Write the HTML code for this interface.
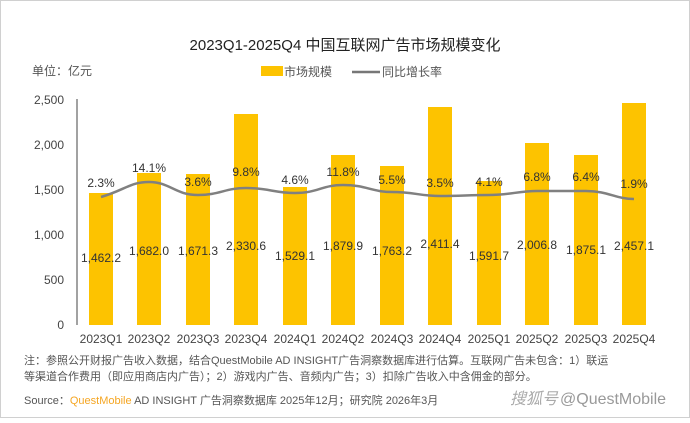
<!DOCTYPE html>
<html><head><meta charset="utf-8"><style>
body{margin:0;width:690px;height:418px;background:#fff;overflow:hidden;font-family:"Liberation Sans","Noto Sans CJK SC",sans-serif}
</style></head><body>
<svg width="690" height="418" xmlns="http://www.w3.org/2000/svg" font-family="Liberation Sans, Noto Sans CJK SC, sans-serif">
<rect x="0.5" y="0.5" width="689" height="417" fill="#fff" stroke="#d0d0d0"/>
<text x="345" y="50" font-size="15" text-anchor="middle" fill="#222">2023Q1-2025Q4 中国互联网广告市场规模变化</text>
<text x="32" y="75" font-size="12" fill="#555">单位：亿元</text>
<rect x="261" y="66" width="22" height="10" fill="#fdc300"/>
<text x="284" y="76" font-size="12" fill="#555">市场规模</text>
<line x1="352" y1="72" x2="380" y2="72" stroke="#777" stroke-width="2.5"/>
<text x="382" y="76" font-size="12" fill="#555">同比增长率</text>
<g font-size="12" fill="#444" text-anchor="end">
<text x="64" y="104">2,500</text><text x="64" y="149">2,000</text><text x="64" y="194">1,500</text>
<text x="64" y="239">1,000</text><text x="64" y="284">500</text><text x="64" y="329">0</text>
</g>
<line x1="77" y1="99" x2="77" y2="325" stroke="#444"/>
<g fill="#fdc300">
<rect x="89" y="193" width="24" height="132"/>
<rect x="137" y="173" width="24" height="152"/>
<rect x="186" y="174" width="24" height="151"/>
<rect x="234" y="114" width="24" height="211"/>
<rect x="283" y="187" width="24" height="138"/>
<rect x="331" y="155" width="24" height="170"/>
<rect x="380" y="166" width="24" height="159"/>
<rect x="428" y="107" width="24" height="218"/>
<rect x="477" y="181" width="24" height="144"/>
<rect x="525" y="143" width="24" height="182"/>
<rect x="574" y="155" width="24" height="170"/>
<rect x="622" y="103" width="24" height="222"/>
</g>
<path d="M101,197 C125,190 130,182 149,182 C170,182 175,195 198,195 C220,195 225,188 246,188 C268,188 275,193 295,193 C318,193 322,185 343,185 C366,185 372,192 392,192 C414,192 420,196 440,196 C462,196 468,195 489,195 C510,195 518,191 537,191 C560,191 566,191 586,191 C608,191 616,199 634,199" fill="none" stroke="#808080" stroke-width="2.5"/>
<g font-size="12" fill="#333" text-anchor="middle">
<text x="101" y="187">2.3%</text><text x="149" y="172">14.1%</text><text x="198" y="186">3.6%</text>
<text x="246" y="176">9.8%</text><text x="295" y="184">4.6%</text><text x="343" y="176">11.8%</text>
<text x="392" y="184">5.5%</text><text x="440" y="187">3.5%</text><text x="489" y="186">4.1%</text>
<text x="537" y="181">6.8%</text><text x="586" y="181">6.4%</text><text x="634" y="188">1.9%</text>
<text x="101" y="262">1,462.2</text><text x="149" y="255">1,682.0</text><text x="198" y="255">1,671.3</text>
<text x="246" y="250">2,330.6</text><text x="295" y="260">1,529.1</text><text x="343" y="250">1,879.9</text>
<text x="392" y="255">1,763.2</text><text x="440" y="248">2,411.4</text><text x="489" y="260">1,591.7</text>
<text x="537" y="249">2,006.8</text><text x="586" y="254">1,875.1</text><text x="634" y="250">2,457.1</text>
</g>
<g font-size="12" fill="#444" text-anchor="middle">
<text x="101" y="343">2023Q1</text><text x="149" y="343">2023Q2</text><text x="198" y="343">2023Q3</text>
<text x="246" y="343">2023Q4</text><text x="295" y="343">2024Q1</text><text x="343" y="343">2024Q2</text>
<text x="392" y="343">2024Q3</text><text x="440" y="343">2024Q4</text><text x="489" y="343">2025Q1</text>
<text x="537" y="343">2025Q2</text><text x="586" y="343">2025Q3</text><text x="634" y="343">2025Q4</text>
</g>
<g font-size="11" fill="#555">
<text x="24" y="364">注：参照公开财报广告收入数据，结合QuestMobile AD INSIGHT广告洞察数据库进行估算。互联网广告未包含：1）联运</text>
<text x="24" y="380">等渠道合作费用（即应用商店内广告）；2）游戏内广告、音频内广告；3）扣除广告收入中含佣金的部分。</text>
<text x="24" y="404">Source：<tspan fill="#f5a623">QuestMobile</tspan> AD INSIGHT 广告洞察数据库 2025年12月；研究院 2026年3月</text>
</g>
<text x="510" y="404" font-size="16" fill="#aaa" font-style="italic">搜狐号</text>
<text x="560" y="404" font-size="16" fill="#999">@QuestMobile</text>
</svg>
</body></html>
